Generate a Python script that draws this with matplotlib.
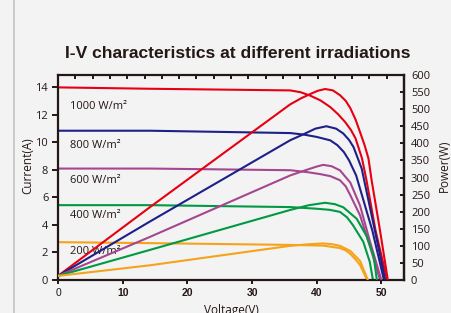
import numpy as np
import matplotlib.pyplot as plt
from matplotlib.lines import Line2D

# irradiance levels, colours
levels = ['1000 W/m²', '800 W/m²', '600 W/m²', '400 W/m²', '200 W/m²']
colors = ['#e60012', '#1d2088', '#a5478f', '#009944', '#f5a31a']

# I-V curves (voltage V, current A)
iv_v = [
    [0, 14.2, 35.9, 37.5, 39.0, 40.6, 42.1, 43.3, 44.4, 45.3, 46.0, 47.0, 47.7, 49.1, 50.9],
    [0, 14.2, 35.9, 38.0, 40.0, 42.1, 43.2, 44.2, 45.0, 45.7, 46.1, 48.6, 50.4],
    [0, 14.2, 35.9, 38.7, 40.5, 42.1, 43.6, 44.5, 45.2, 46.7, 48.2, 49.8],
    [0, 14.2, 35.9, 40.0, 42.0, 43.6, 44.7, 45.6, 47.2, 48.2, 48.7],
    [0, 14.2, 35.9, 41.0, 43.6, 44.5, 45.2, 46.0, 46.7, 47.8],
]
iv_i = [
    [14.0, 13.9, 13.78, 13.65, 13.4, 13.05, 12.57, 12.05, 11.48, 10.9, 10.3, 8.85, 7.25, 3.6, 0],
    [10.85, 10.85, 10.68, 10.57, 10.4, 10.15, 9.8, 9.3, 8.7, 8.0, 7.6, 3.6, 0],
    [8.1, 8.1, 7.98, 7.83, 7.7, 7.55, 7.25, 6.8, 6.16, 4.7, 2.5, 0],
    [5.44, 5.44, 5.3, 5.18, 5.1, 4.95, 4.55, 3.99, 2.78, 1.33, 0],
    [2.75, 2.68, 2.55, 2.5, 2.32, 2.15, 1.89, 1.5, 1.09, 0],
]

# P-V curves (voltage V, power W)
pv_v = [
    [0, 14.2, 35.9, 37.6, 39.2, 40.2, 41.3, 42.5, 43.6, 44.5, 45.2, 46.0, 46.7, 47.4, 48.0, 48.5, 49.8, 51.0],
    [0, 14.2, 35.9, 37.9, 39.8, 41.5, 43.0, 44.1, 45.0, 45.7, 46.96, 49.0, 50.6],
    [0, 14.2, 35.9, 38.7, 40.0, 41.0, 42.3, 43.6, 45.2, 46.7, 48.2, 50.0],
    [0, 14.2, 35.9, 38.8, 41.3, 42.8, 44.1, 46.2, 47.7, 48.8, 49.3],
    [0, 14.2, 35.9, 39.0, 41.0, 42.3, 43.6, 45.2, 46.7, 47.9],
]
pv_p = [
    [12, 213, 514, 532, 546, 554, 559, 555, 541, 524, 503, 470, 433, 395, 356, 291, 144, 0],
    [12, 171, 409, 426, 443, 450, 443, 429, 410, 389, 326, 144, 0],
    [12, 126, 306, 324, 332, 337, 333, 321, 285, 218, 115, 0],
    [12, 88, 205, 219, 226, 222, 213, 179, 129, 71, 0],
    [12, 43, 100, 105, 107, 105, 100, 85, 56, 0],
]

label_y = [12.6, 9.8, 7.2, 4.66, 2.05]

bg = '#f3f3f3'
ink = '#231815'

fig = plt.figure(figsize=(4.51, 3.13), dpi=100, facecolor=bg)
ax = fig.add_axes([58/451, 1-280/313, 346/451, 205/313])
ax.set_facecolor('none')
ax2 = ax.twinx()

for k in range(len(levels)):
    ax.plot(iv_v[k], iv_i[k], color=colors[k], lw=1.5, solid_capstyle='round', solid_joinstyle='round')
    ax2.plot(pv_v[k], pv_p[k], color=colors[k], lw=1.5, solid_capstyle='round', solid_joinstyle='round')
    ax.text(1.9, label_y[k], levels[k], fontsize=8, family='Open Sans', color=ink, va='center')

xmax = 53.5
ax.set_xlim(0, xmax)
ax.set_ylim(0, 14.9)
ax2.set_ylim(0, 600)

ax.set_xticks([0, 10, 20, 30, 40, 50])
ax.set_yticks(np.arange(0, 15, 2))
ax2.set_yticks(np.arange(0, 601, 50))

ax.tick_params(axis='x', direction='out', length=3, width=1.4, color=ink, pad=3, labelsize=7.5, labelcolor=ink)
ax.tick_params(axis='y', direction='out', length=4, width=1.4, color=ink, pad=3, labelsize=8, labelcolor=ink)
ax2.tick_params(axis='y', direction='in', length=3, width=1.4, color=ink, pad=5, labelsize=8, labelcolor=ink)
for t in ax.get_xticklabels():
    t.set_family('Liberation Sans')
    t.set_fontweight('bold')
ax.get_xticklabels()[0].set_fontweight('normal')
for t in ax.get_yticklabels() + ax2.get_yticklabels():
    t.set_family('Open Sans')

top = ax.secondary_xaxis('top')
top.set_xticks(np.linspace(0, xmax, 21))
top.set_xticklabels([])
top.tick_params(direction='in', length=3, width=1.4, color=ink)
top.spines['top'].set_visible(False)

for s in ax.spines.values():
    s.set_color(ink)
    s.set_linewidth(1.6)
for s in ax2.spines.values():
    s.set_visible(False)
ax2.spines['right'].set_visible(True)
ax2.spines['right'].set_color(ink)
ax2.spines['right'].set_linewidth(1.6)

ax.set_xlabel('Voltage(V)', fontsize=8.5, family='Open Sans', color=ink)
ax.xaxis.set_label_coords(0.5, -0.118)
ax.set_ylabel('Current(A)', fontsize=8.5, family='Open Sans', color=ink)
ax.yaxis.set_label_coords(-0.069, 0.556)
ax2.set_ylabel('Power(W)', fontsize=8.5, family='Open Sans', color=ink)
ax2.yaxis.set_label_coords(1.098, 0.556)

fig.text(238/451, 1-53.5/313, 'I-V characteristics at different irradiations',
         ha='center', va='center', fontsize=12.6, fontweight='bold',
         family='Liberation Sans', color=ink)

fig.add_artist(Line2D([14/451, 14/451], [0, 1], transform=fig.transFigure, color='#c4c4c4', lw=1.2))

fig.savefig('out.png', dpi=100, facecolor=bg)
